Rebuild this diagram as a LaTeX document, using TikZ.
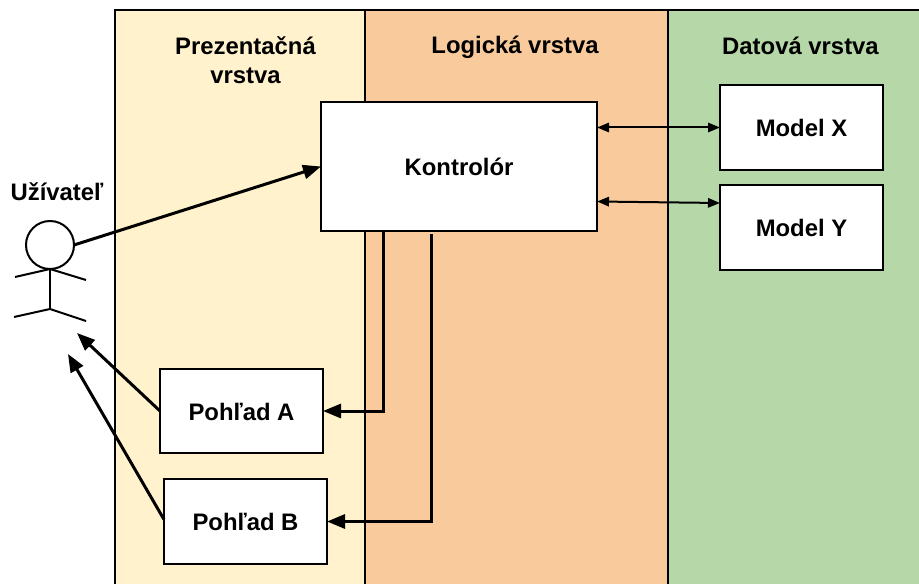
\documentclass[tikz,border=0pt]{standalone}
\usepackage{fontspec}
\setmainfont{Liberation Sans}
\usepackage{tikz}
\usetikzlibrary{positioning,arrows.meta}
\tikzset{
	layer/.style={draw=black, line width=1.5pt, minimum height=450pt, anchor=north west, outer sep=0pt},
	layertitle/.style={font=\fontsize{17.9}{21.75}\selectfont\bfseries, align=center, inner sep=0pt},
	boxnode/.style={draw=black, fill=white, line width=1.5pt, minimum width=122.25pt, minimum height=63.5pt, outer sep=0pt, inner sep=0pt, text height=14pt, text depth=0pt, font=\fontsize{17.9}{21.75}\selectfont\bfseries},
	flow/.style={line width=2.25pt, -{Triangle[length=13.5pt,width=10.5pt]}},
	link/.style={line width=1.5pt, {Triangle[length=9pt,width=7pt]}-{Triangle[length=9pt,width=7pt]}},
	limb/.style={line width=1.5pt},
}

\begin{document}
\begin{tikzpicture}[x=0.75pt,y=-0.75pt]
    \clip (0,0) rectangle (919,584);

    \node[layer, fill={rgb,255:red,255;green,242;blue,204}, minimum width=187.5pt] (prez) at (115,10) {};
    \node[layer, fill={rgb,255:red,249;green,203;blue,156}, minimum width=227.25pt] (logic) at (365,10) {};
    \node[layer, fill={rgb,255:red,182;green,215;blue,168}, line width=2pt, minimum width=200pt] (data) at (668,10) {};

    \node[layertitle] (prezT) at (245.5,60) {Prezentačná\\vrstva};
    \node[layertitle] (logicT) at (515,47.5) {Logická vrstva};
    \node[layertitle] (dataT) at (800.5,46) {Datová vrstva};

    \node[boxnode, minimum width=207pt, minimum height=96.75pt] (ctrl) at (459,166.5) {Kontrolór};
    \node[boxnode] (modelX) at (801.5,127.5) {Model X};
    \node[boxnode, below=11.25pt of modelX] (modelY) {Model Y};
    \node[boxnode] (viewA) at (241.5,411) {Pohľad A};
    \node[boxnode] (viewB) at (245.5,521.5) {Pohľad B};

    \node[layertitle] (userT) at (57,192) {Užívateľ};
    \node[circle, draw=black, fill=white, line width=1.5pt, minimum size=36pt, inner sep=0pt, outer sep=0pt] (head) at (50,245) {};
    \coordinate[below=30pt of head.south] (hip);
    \coordinate (handL) at (15,277); \coordinate (handR) at (86,280);
    \coordinate (footL) at (14,317); \coordinate (footR) at (86,321);

    \draw[limb] (head.south) -- (hip);
    \draw[limb] (handL) -- (head.south) -- (handR);
    \draw[limb] (footL) -- (hip) -- (footR);

    \coordinate (userA) at (77,333); \coordinate (userB) at (68,354);
    \coordinate (ctrlA) at (383,231); \coordinate (ctrlB) at (431,234);
    \coordinate (ctrlY) at (597,201.5); \coordinate (modelYin) at (720,203);

    \draw[flow] (head.east) -- (ctrl.west);
    \draw[flow] (viewA.west) -- (userA);
    \draw[flow] ([yshift=1.5pt]viewB.west) -- (userB);
    \draw[flow] (ctrlA) |- (viewA.east);
    \draw[flow] (ctrlB) |- (viewB.east);

    \draw[link] (modelX.west -| ctrl.east) -- (modelX.west);
    \draw[link] (ctrlY) -- (modelYin);
\end{tikzpicture}
\end{document}
